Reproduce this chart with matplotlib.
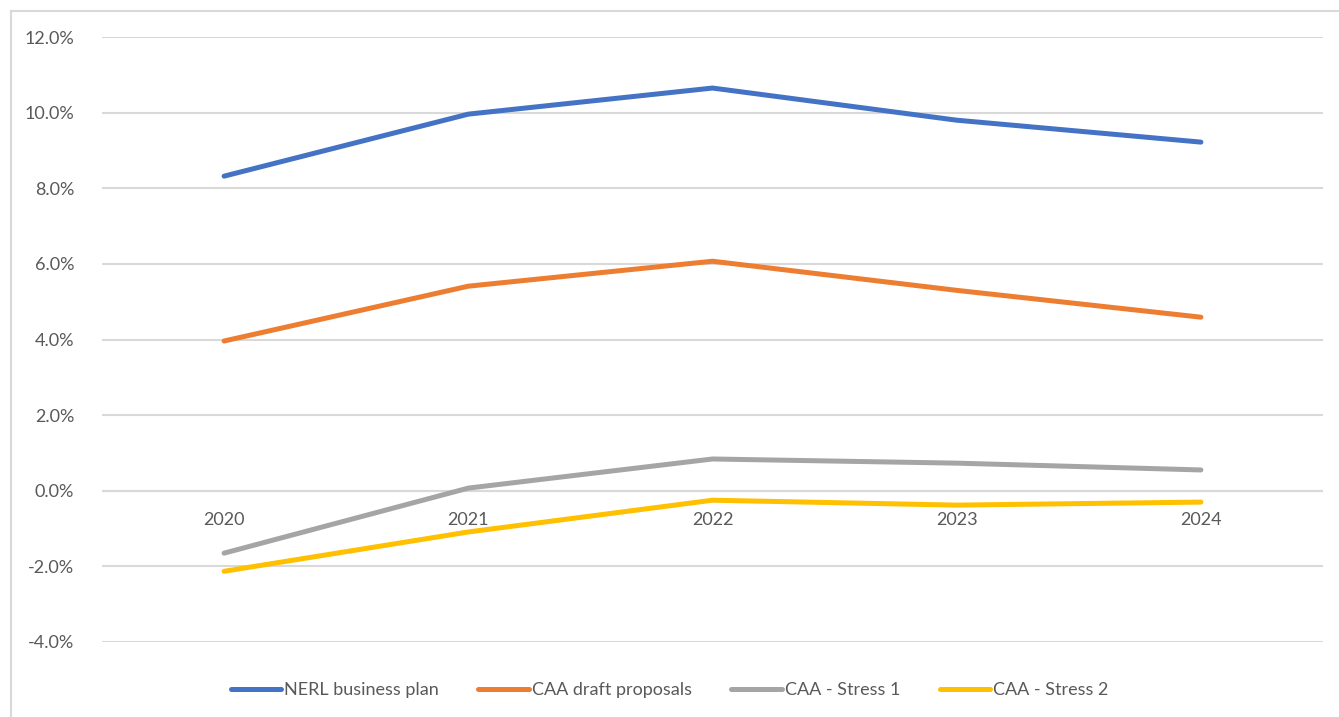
import matplotlib.pyplot as plt
from matplotlib.lines import Line2D
from matplotlib.ticker import FuncFormatter

plt.rcParams['font.family'] = ['Lato', 'DejaVu Sans']

years = ['2020', '2021', '2022', '2023', '2024']
nerl_plan = [8.32, 9.96, 10.65, 9.80, 9.22]
caa_draft = [3.96, 5.41, 6.07, 5.30, 4.59]
caa_stress1 = [-1.65, 0.07, 0.84, 0.73, 0.55]
caa_stress2 = [-2.13, -1.09, -0.25, -0.38, -0.30]

series = [
    ('NERL business plan', nerl_plan, '#4472C4'),
    ('CAA draft proposals', caa_draft, '#ED7D31'),
    ('CAA - Stress 1', caa_stress1, '#A5A5A5'),
    ('CAA - Stress 2', caa_stress2, '#FFC000'),
]

W, H = 1339, 717
fig = plt.figure(figsize=(W / 100, H / 100), dpi=100)
ax = fig.add_axes([102 / W, 1 - 642 / H, (1323 - 102) / W, (642 - 37) / H])

x = range(len(years))
for label, vals, color in series:
    ax.plot(x, vals, color=color, lw=3.6, solid_capstyle='round', label=label, zorder=3)

ax.set_xlim(-0.5, len(years) - 0.5)
ax.set_ylim(-4, 12)
ax.set_yticks(range(-4, 13, 2))
ax.yaxis.set_major_formatter(FuncFormatter(lambda v, p: f'{v:.1f}%'))
ax.grid(axis='y', color='#D9D9D9', lw=1.5, zorder=0)
ax.axhline(0, color='#D9D9D9', lw=1.5, zorder=1)
for s in ax.spines.values():
    s.set_visible(False)
ax.tick_params(axis='both', length=0, labelsize=13, colors='#595959')
ax.tick_params(axis='y', pad=20)

# category labels sit just under the zero line
ax.set_xticks([])
for i, yr in enumerate(years):
    ax.text(i, -0.78, yr, ha='center', va='center', fontsize=13, color='#595959')

handles = [Line2D([], [], color=c, lw=3.6, solid_capstyle='round') for _, _, c in series]
fig.legend(handles, [s[0] for s in series], loc='center', bbox_to_anchor=(0.5, 1 - 690 / H),
           ncol=4, frameon=False, fontsize=13, labelcolor='#595959',
           handlelength=2.8, handletextpad=0.15, columnspacing=2.2)

# chart frame
fig.add_artist(Line2D([11 / W, 11 / W], [0, 1 - 11 / H], color='#D9D9D9', lw=1.5))
fig.add_artist(Line2D([11 / W, 1], [1 - 11 / H, 1 - 11 / H], color='#D9D9D9', lw=1.5))

fig.savefig('out.png', dpi=100)
